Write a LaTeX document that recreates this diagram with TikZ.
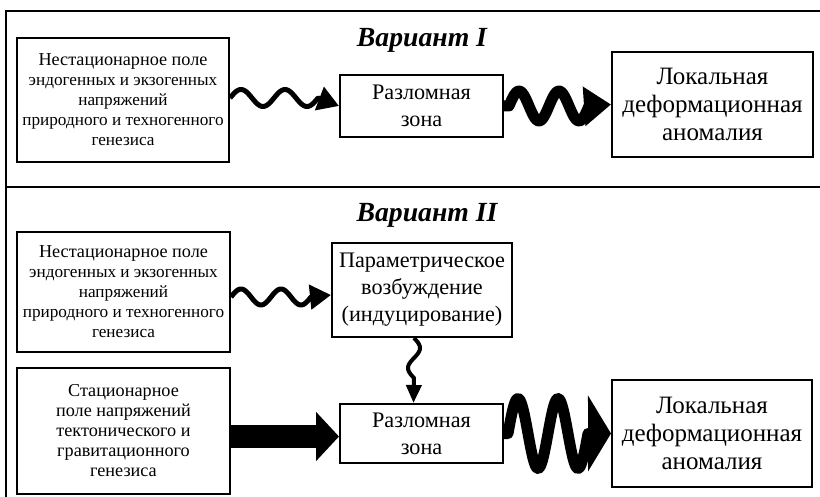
\documentclass[tikz,border=0pt]{standalone}
\usepackage{fontspec}
\setmainfont{Liberation Serif}
\usetikzlibrary{arrows.meta}

\begin{document}
\begin{tikzpicture}[x=1pt,y=-1pt,
  box node/.style={draw,line width=2pt,inner sep=0pt,align=center,font=\fontsize{17.2}{20}\selectfont},
  mid node/.style={box node,font=\fontsize{22.2}{27}\selectfont},
  end node/.style={box node,font=\fontsize{25}{28}\selectfont},
  title node/.style={font=\bfseries\itshape\fontsize{27.7}{30}\selectfont},
  thin wave/.style={line width=5pt,line join=round,-{Triangle[length=21pt,width=24pt]}},
  fat wave/.style={line width=11pt,line join=round,-{Triangle[length=27pt,width=38pt]}},
  fat arrow/.style={line width=23pt,-{Triangle[length=23pt,width=48pt]}}]

\useasboundingbox (0,0) rectangle (820,497);

% frame
\draw[line width=2.5pt] (820,11) -| (6,497);
\draw[line width=2.5pt] (6,187) -- (820,187);

% Variant I
\node at (422,40) [title node] (t1) {Вариант I};
\node at (123,100) [box node,minimum width=212,minimum height=124] (src1)
  {{\fontsize{18.2}{20}\selectfont Нестационарное поле}\\эндогенных и экзогенных\\напряжений\\природного и техногенного\\генезиса};
\node at (421.5,106) [mid node,minimum width=163,minimum height=62] (zone1) {Разломная\\зона};
\node at (712.5,104.5) [end node,minimum width=201,minimum height=105] (anom1) {Локальная\\деформационная\\аномалия};

\draw[thin wave,shift={([yshift=2]src1.east)}] ([yshift=2]src1.east)
  -- plot[domain=0:88,samples=60] (\x,{-8.5*sin(\x/44*360)}) -- (zone1.west);
\draw[fat wave,shift={(zone1.east)}] (zone1.east)
  -- plot[domain=0:80,samples=60] (\x+5,{-15*sin(\x*9)}) -- (anom1.west);

% Variant II
\node at (427,215) [title node] (t2) {Вариант II};
\node at (123.5,292) [box node,minimum width=213,minimum height=120] (src2)
  {{\fontsize{18.2}{20}\selectfont Нестационарное поле}\\эндогенных и экзогенных\\напряжений\\природного и техногенного\\генезиса};
\node at (123.5,431) [box node,minimum width=213,minimum height=126,font=\fontsize{18.2}{20}\selectfont] (stat)
  {Стационарное\\поле напряжений\\тектонического и\\гравитационного\\генезиса};
\node at (422,290) [mid node,minimum width=180,minimum height=94] (param) {Параметрическое\\возбуждение\\(индуцирование)};
\node at (421.5,433.5) [mid node,minimum width=163,minimum height=59] (zone2) {Разломная\\зона};
\node at (712,433.5) [end node,minimum width=200,minimum height=107] (anom2) {Локальная\\деформационная\\аномалия};

\draw[thin wave,shift={([yshift=-5]src2.east)}] ([yshift=-5]src2.east)
  -- plot[domain=0:80,samples=60] (\x,{-8*sin(\x*9)}) -- ([yshift=-5]param.west);
\draw[line width=4pt,line join=round,-{Triangle[length=18pt,width=15pt]},shift={([xshift=-8]param.south)}]
  ([xshift=-8]param.south) -- plot[domain=0:40,samples=40] ({6*sin(\x*9)},\x) -- ([xshift=-8]zone2.north);
\draw[fat arrow] ([yshift=-3]stat.east |- zone2.west) -- ([yshift=-3]zone2.west);
\draw[fat wave,line width=11pt,-{Triangle[length=23pt,width=75pt]},shift={(zone2.east)}] (zone2.east)
  -- plot[domain=0:80,samples=80] (\x+4,{-35*sin(\x*9)}) -- (anom2.west);

\end{tikzpicture}
\end{document}
